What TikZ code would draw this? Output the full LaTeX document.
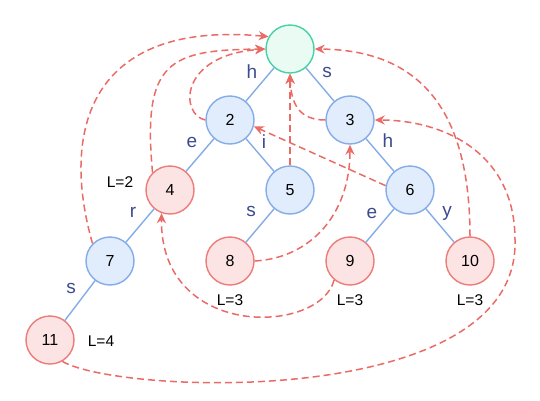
\documentclass[tikz,border=0pt]{standalone}
\usepackage{fontspec}
\setmainfont{Liberation Sans}
\usetikzlibrary{arrows.meta}
\definecolor{bluefill}{HTML}{E1ECFC}
\definecolor{blueline}{HTML}{83ACE8}
\definecolor{redfill}{HTML}{FDE4E4}
\definecolor{redline}{HTML}{EC7C78}
\definecolor{rootfill}{HTML}{EAFBF4}
\definecolor{rootline}{HTML}{44D3A2}
\definecolor{failred}{HTML}{EA6B66}
\definecolor{chrblue}{HTML}{3C4B8E}
\begin{document}
\begin{tikzpicture}[x=1pt,y=-1pt, line join=round, line cap=round,
    trie/.style={circle,draw=blueline,fill=bluefill,line width=1.4pt,minimum size=48pt,inner sep=0pt,font=\fontsize{16}{16}\selectfont},
    hit/.style={trie,draw=redline,fill=redfill},
    rootnode/.style={trie,draw=rootline,fill=rootfill},
    edge/.style={draw=blueline,line width=1.4pt},
    fail/.style={draw=failred,line width=1.5pt,line cap=butt,dash pattern=on 7pt off 4pt,-{Stealth[length=10pt,width=9pt]}},
    chr/.style={text=chrblue,font=\fontsize{19}{19}\selectfont},
    len/.style={font=\fontsize{15.5}{15.5}\selectfont}]
    \useasboundingbox (0,0) rectangle (540,400);
    % trie nodes
    \node[rootnode] (root) at (290,49) {};
    \node[trie] (n2) at (230,120) {2};
    \node[trie] (n3) at (350,120) {3};
    \node[hit] (n4) at (170,190) {4};
    \node[trie] (n5) at (290,190) {5};
    \node[trie] (n6) at (410,190) {6};
    \node[trie] (n7) at (110,261) {7};
    \node[hit] (n8) at (230,261) {8};
    \node[hit] (n9) at (350,261) {9};
    \node[hit] (n10) at (470,261) {10};
    \node[hit] (n11) at (50,340) {11};
    \foreach \a/\b in {root/n2,root/n3,n2/n4,n2/n5,n3/n6,n4/n7,n5/n8,n6/n9,n6/n10,n7/n11}
        \draw[edge] (\a) -- (\b);
    % characters on the edges
    \foreach \x/\y/\t [count=\i] in {252/72/h,327/72/s,192/142/e,264/142/i,133/212/r,251/211/s,388/141/h,372/213/e,447/213/y,71/288/s}
        \node[chr] (chr\i) at (\x,\y) {\t};
    % pattern lengths
    \node[len] (len4) at (120,182) {L=2};
    \node[len] (len8) at (230,300) {L=3};
    \node[len] (len9) at (350,300) {L=3};
    \node[len] (len10) at (470,300) {L=3};
    \node[len] (len11) at (101,341) {L=4};
    % failure links
    \draw[fail] (n7.135) .. controls (60,130) and (90,20) .. (root.150);
    \draw[fail] (n4.135) .. controls (142,60) and (170,50) .. (root.west);
    \draw[fail] (n2.west) .. controls (180,115) and (178,55) .. (root.west);
    \draw[fail] (n5) -- (root);
    \draw[fail] (n3.west) .. controls (300,120) and (291,105) .. (root.south);
    \draw[fail] (n6.170) -- (n2.-15);
    \draw[fail] (n8.east) .. controls (310,258) and (350,215) .. (n3.south);
    \draw[fail] (n9.230) .. controls (320,335) and (160,340) .. (n4.250);
    \draw[fail] (n10.north) .. controls (470,110) and (420,50) .. (root.east);
    \draw[fail] (n11.-60) .. controls (120,395) and (520,410) .. (515,240) .. controls (515,150) and (440,120) .. (n3.east);
\end{tikzpicture}
\end{document}
